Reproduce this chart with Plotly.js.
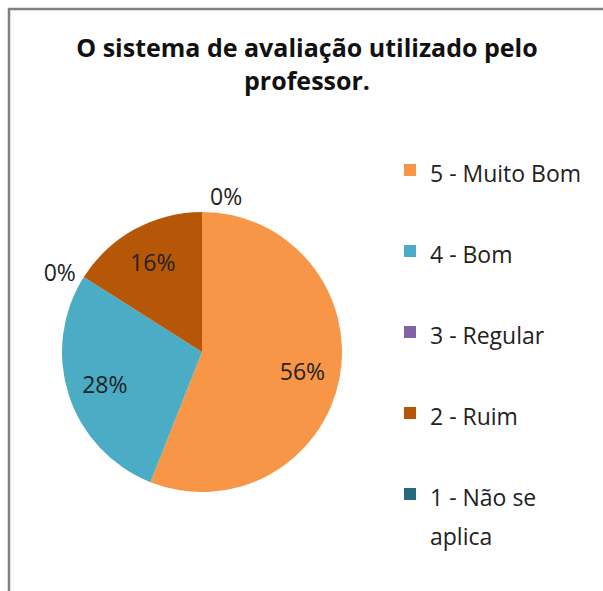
<!DOCTYPE html>
<html>
<head>
<meta charset="utf-8">
<script src="https://cdn.plot.ly/plotly-3.0.1.min.js"></script>
<style>
  html, body { margin: 0; padding: 0; background: #ffffff; overflow: hidden; }
  #chart { width: 603px; height: 591px; }
</style>
</head>
<body>
<div id="chart"></div>
<script>
// Data
var categories = ['5 - Muito Bom', '4 - Bom', '3 - Regular', '2 - Ruim', '1 - Não se<br>aplica'];
var counts = [14, 7, 0, 4, 0];
var sliceColors = ['#F79646', '#4BACC6', '#8064A2', '#B65708', '#266A7C'];
var chartTitle = 'O sistema de avaliação utilizado pelo<br>professor.';

var W = 603, H = 591;
var textColor = '#222222';
var pieDomain = { x: [62 / W, 342 / W], y: [1 - 492 / H, 1 - 212 / H] };

// Legend labels padded with a blank line to mimic the wide item spacing
var legendLabels = categories.map(function (c) {
  var parts = c.split('<br>');
  var styled = parts.map(function (p) { return '<span style="font-size:23px">' + p + '</span>'; });
  while (styled.length < 2) styled.push('&nbsp;');
  return styled.join('<br>');
});

// Main pie: slices + outside labels for empty categories
var mainTrace = {
  type: 'pie',
  labels: legendLabels,
  values: counts,
  marker: { colors: sliceColors, line: { width: 0 } },
  sort: false,
  direction: 'clockwise',
  rotation: 0,
  textinfo: 'percent',
  textposition: counts.map(function (v) { return v > 0 ? 'none' : 'outside'; }),
  textfont: { family: 'Open Sans', size: 23, color: textColor },
  hoverinfo: 'label+percent',
  domain: pieDomain
};

// Transparent overlay pie (with a hole) used only to place the inside percentage labels
var labelTrace = {
  type: 'pie',
  labels: legendLabels,
  values: counts,
  hole: 0.46,
  marker: { colors: counts.map(function () { return 'rgba(0,0,0,0)'; }), line: { width: 0 } },
  sort: false,
  direction: 'clockwise',
  rotation: 0,
  showlegend: false,
  textinfo: 'percent',
  textposition: counts.map(function (v) { return v > 0 ? 'inside' : 'none'; }),
  insidetextorientation: 'horizontal',
  textfont: { family: 'Open Sans', size: 23, color: textColor },
  hoverinfo: 'skip',
  domain: pieDomain
};

var layout = {
  width: W,
  height: H,
  margin: { l: 0, r: 0, t: 0, b: 0 },
  paper_bgcolor: '#ffffff',
  plot_bgcolor: '#ffffff',
  font: { family: 'Open Sans', color: textColor },
  title: {
    text: chartTitle,
    font: { family: 'Open Sans', size: 25, weight: 'bold', color: '#111111' },
    x: 307 / W,
    xanchor: 'center',
    xref: 'paper',
    y: 1 - 57 / H,
    yanchor: 'top',
    yref: 'paper'
  },
  showlegend: true,
  legend: {
    x: 390 / W,
    xanchor: 'left',
    y: 1 - 144 / H,
    yanchor: 'top',
    valign: 'top',
    font: { family: 'Open Sans', size: 30, color: textColor },
    bgcolor: 'rgba(0,0,0,0)',
    borderwidth: 0
  },
  shapes: [
    { type: 'rect', xref: 'paper', yref: 'paper', x0: 9 / W, x1: 1.05, y0: -0.05, y1: 1 - 9 / H,
      line: { color: '#7f7f7f', width: 2.5 }, fillcolor: 'rgba(0,0,0,0)', layer: 'above' }
  ]
};

Plotly.newPlot('chart', [mainTrace, labelTrace], layout, { displayModeBar: false, staticPlot: true });
</script>
</body>
</html>
